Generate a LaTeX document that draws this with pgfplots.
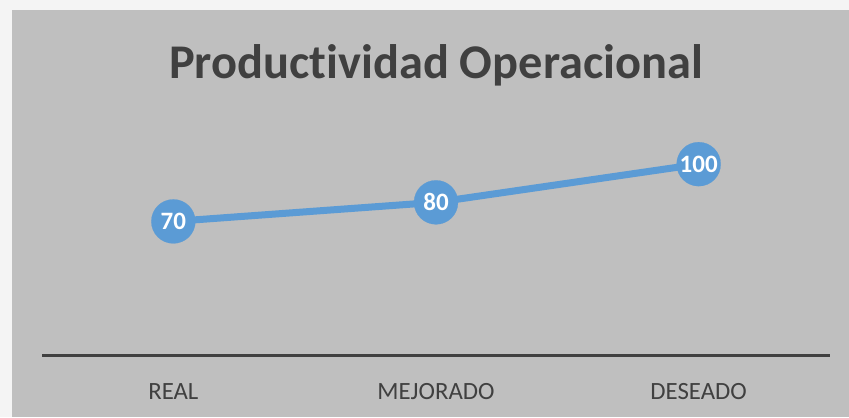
\documentclass[border=0pt]{standalone}
\usepackage{fontspec}
\setmainfont{Carlito}[Ligatures={NoCommon}]
\usepackage{pgfplots}
\pgfplotsset{compat=1.18}
\definecolor{serie}{HTML}{5B9BD5}
\definecolor{fondo}{HTML}{BFBFBF}
\definecolor{texto}{HTML}{404040}
\definecolor{marco}{HTML}{F4F4F4}
\begin{document}
\begin{tikzpicture}
% outer page and grey chart area (pixel units)
\begin{scope}[x=0.5pt,y=-0.5pt]
\fill[marco] (0,0) rectangle (849,417);
\fill[fondo] (12,10) rectangle (849,417);
\useasboundingbox (0,0) rectangle (849,417);
\node[anchor=base, font=\fontsize{24.2}{28}\selectfont\bfseries, text=texto] at (436,79) {Productividad Operacional};
\end{scope}
\begin{axis}[
  at={(21pt,-177.5pt)}, anchor=south west,
  scale only axis, width=394pt, height=114.5pt,
  xmin=-0.5, xmax=2.5, ymin=0, ymax=120,
  axis x line*=bottom, hide y axis,
  x axis line style={draw=texto, line width=1.5pt},
  xtick={0,1,2}, xticklabels={REAL,MEJORADO,DESEADO},
  major tick length=0pt,
  xticklabel style={font=\fontsize{12.4}{14}\selectfont, text=texto, inner sep=0pt, anchor=north, yshift=-14pt},
  ytick=\empty,
  clip=false,
  point meta=explicit symbolic,
  nodes near coords,
  nodes near coords style={anchor=center, text=white, font=\fontsize{12.5}{14}\selectfont\bfseries},
]
\addplot[serie, line width=3.5pt, mark=*, mark size=11pt, mark options={fill=serie, draw=serie, line width=0.1pt}]
  coordinates {(0,70) [70] (1,80) [80] (2,100) [100]};
\end{axis}
\end{tikzpicture}
\end{document}
